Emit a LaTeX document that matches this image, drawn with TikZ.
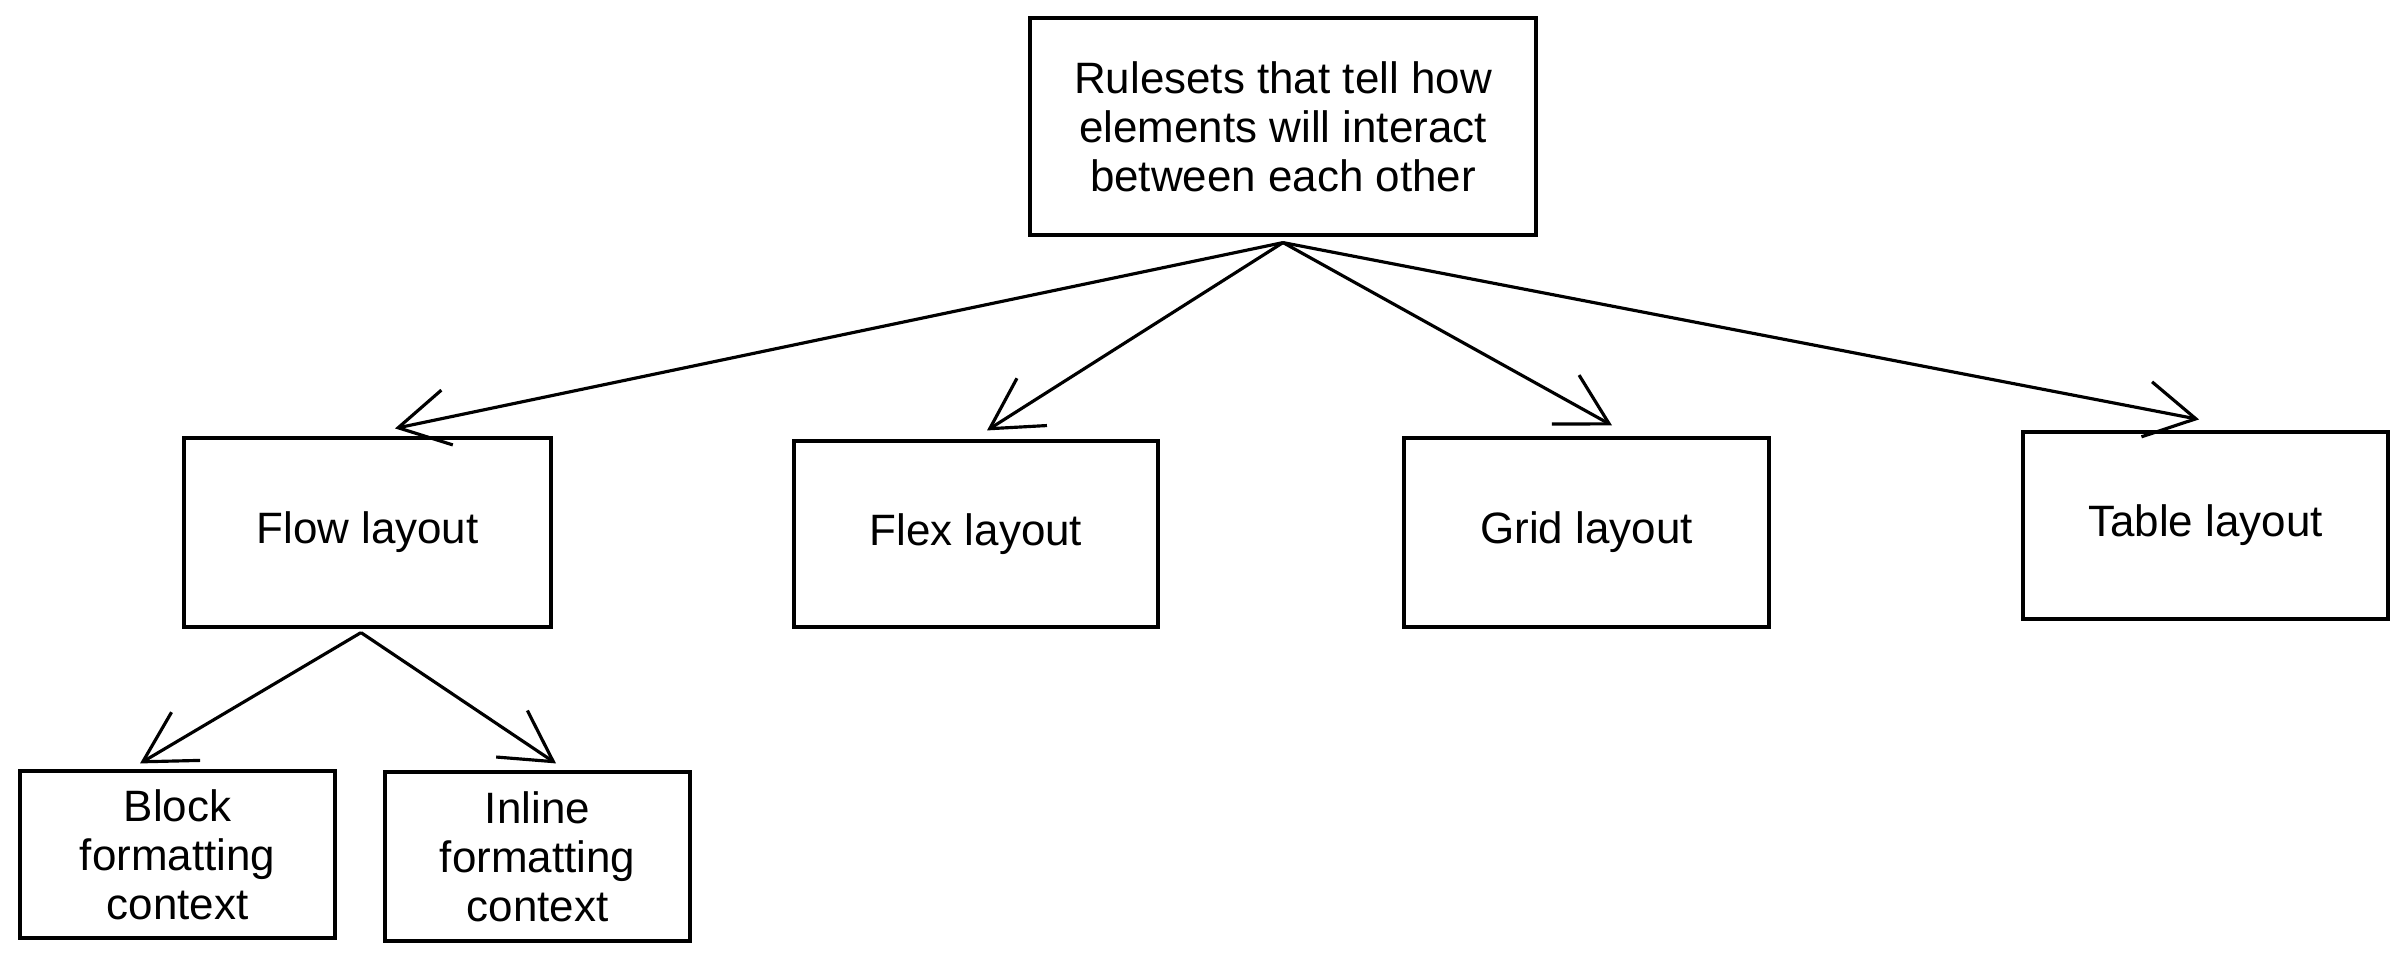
\documentclass[tikz,border=0pt]{standalone}
\usepackage{fontspec}
\setmainfont{Liberation Sans}
\usepackage{tikz}
\usetikzlibrary{arrows.meta}
\tikzset{>={Straight Barb[length=5mm,width=5.6mm]}}
\tikzset{
  layoutbox/.style={draw, line width = 0.9pt, align=center, inner sep=2pt,
    font=\fontsize{12.5}{14}\selectfont},
  sketcharrow/.style={->, line width = 0.9pt}
}

\begin{document}
\begin{tikzpicture}
\useasboundingbox (0,0) rectangle (24.08,-9.61);
\node[layoutbox, minimum width=5.06cm, minimum height=2.17cm] (rules) at (12.83,-1.265) {Rulesets that tell how\\elements will interact\\between each other};
\node[layoutbox, minimum width=3.67cm, minimum height=1.89cm] (flow) at (3.675,-5.325) {Flow layout};
\node[layoutbox, minimum width=3.64cm, minimum height=1.86cm] (flex) at (9.76,-5.34) {Flex layout};
\node[layoutbox, minimum width=3.65cm, minimum height=1.89cm] (grid) at (15.865,-5.325) {Grid layout};
\node[layoutbox, minimum width=3.65cm, minimum height=1.87cm] (table) at (22.055,-5.255) {Table layout};
\node[layoutbox, minimum width=3.15cm, minimum height=1.67cm] (block) at (1.775,-8.545) {Block\\formatting\\context};
\node[layoutbox, minimum width=3.05cm, minimum height=1.69cm] (inline) at (5.375,-8.565) {Inline\\formatting\\context};
\coordinate (rulesout) at ([yshift=-0.6mm]rules.south);
\coordinate (flowout) at ([xshift=-0.65mm,yshift=-0.4mm]flow.south);
\draw[sketcharrow] (rulesout) -- ([xshift=2.75mm,yshift=0.8mm]flow.north);
\draw[sketcharrow] (rulesout) -- ([xshift=1.1mm,yshift=0.9mm]flex.north);
\draw[sketcharrow] (rulesout) -- ([xshift=2.55mm,yshift=1.1mm]grid.north);
\draw[sketcharrow] (rulesout) -- ([xshift=-0.65mm,yshift=1.1mm]table.north);
\draw[sketcharrow] (flowout) -- ([xshift=-3.75mm,yshift=0.6mm]block.north);
\draw[sketcharrow] (flowout) -- ([xshift=1.85mm,yshift=0.7mm]inline.north);
\end{tikzpicture}
\end{document}
